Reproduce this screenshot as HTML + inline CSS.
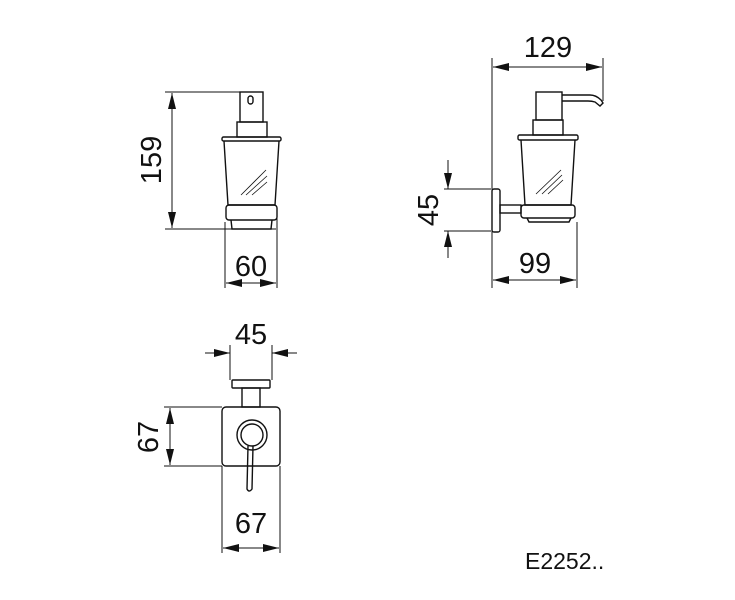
<!DOCTYPE html>
<html><head><meta charset="utf-8"><style>
html,body{margin:0;padding:0;background:#fff;}
svg{display:block;}
text{font-family:"Liberation Sans",sans-serif;fill:#111;}
</style></head><body>
<svg width="735" height="600" viewBox="0 0 735 600" xmlns="http://www.w3.org/2000/svg">
<defs>
<marker id="a" viewBox="0 0 16 8" refX="16" refY="4" markerWidth="16" markerHeight="8" markerUnits="userSpaceOnUse" orient="auto-start-reverse"><path d="M0,0 L16,4 L0,8 Z" fill="#111"/></marker>
</defs>
<g stroke="#111" stroke-width="1" fill="none">
<!-- View 1 -->
<line x1="165" y1="92" x2="262" y2="92"/>
<line x1="165" y1="229" x2="276" y2="229"/>
<line x1="172" y1="93" x2="172" y2="228" marker-start="url(#a)" marker-end="url(#a)"/>
<line x1="225" y1="222" x2="225" y2="288"/>
<line x1="277" y1="215" x2="277" y2="288"/>
<line x1="226" y1="283" x2="276" y2="283" marker-start="url(#a)" marker-end="url(#a)"/>
<g stroke-width="1.4">
<rect x="240" y="92" width="23" height="30"/>
<rect x="248" y="96" width="5" height="8" rx="2.5"/>
<rect x="237" y="122" width="30" height="15"/>
<rect x="222" y="137" width="59" height="4" rx="1.5"/>
<path d="M224,141 L228,205 L275,205 L279,141"/>
<rect x="226" y="205" width="51" height="15" rx="3"/>
<path d="M231,220 L232,229 L271,229 L272,220"/>
</g>
<g stroke-width="0.8">
<line x1="241" y1="195" x2="266" y2="170"/>
<line x1="246" y1="195" x2="267" y2="176"/>
<line x1="252" y1="195" x2="267" y2="182"/>
</g>
<!-- View 2 -->
<line x1="492" y1="58" x2="492" y2="288"/>
<line x1="603" y1="58" x2="603" y2="101"/>
<line x1="493" y1="67" x2="602" y2="67" marker-start="url(#a)" marker-end="url(#a)"/>
<line x1="444" y1="189" x2="491" y2="189"/>
<line x1="444" y1="231" x2="491" y2="231"/>
<line x1="448" y1="160" x2="448" y2="189" marker-end="url(#a)"/>
<line x1="448" y1="258" x2="448" y2="231" marker-end="url(#a)"/>
<line x1="577" y1="222" x2="577" y2="288"/>
<line x1="493" y1="280" x2="576" y2="280" marker-start="url(#a)" marker-end="url(#a)"/>
<g stroke-width="1.4">
<rect x="536" y="92" width="26" height="28"/>
<path d="M562,95 L590,95 Q596,95 601,100 L603,103 L600,106 L595,102 Q592,101 588,101 L562,101"/>
<rect x="533" y="120" width="30" height="15"/>
<rect x="518" y="135" width="60" height="5" rx="1.5"/>
<path d="M521,140 L525,205 L571,205 L575,140"/>
<rect x="521" y="205" width="54" height="13" rx="3"/>
<path d="M527,218 L529,222 L569,222 L571,218"/>
<rect x="492" y="189" width="8" height="43" rx="2"/>
<rect x="500" y="205" width="21" height="8"/>
</g>
<g stroke-width="0.8">
<line x1="536" y1="194" x2="561" y2="170"/>
<line x1="542" y1="194" x2="562" y2="175"/>
<line x1="548" y1="194" x2="563" y2="180"/>
</g>
<!-- View 3 -->
<line x1="230" y1="345" x2="230" y2="380"/>
<line x1="272" y1="345" x2="272" y2="380"/>
<line x1="205" y1="353" x2="230" y2="353" marker-end="url(#a)"/>
<line x1="297" y1="353" x2="272" y2="353" marker-end="url(#a)"/>
<line x1="164" y1="407" x2="222" y2="407"/>
<line x1="164" y1="466" x2="222" y2="466"/>
<line x1="170" y1="408" x2="170" y2="465" marker-start="url(#a)" marker-end="url(#a)"/>
<line x1="222" y1="466" x2="222" y2="553"/>
<line x1="280" y1="466" x2="280" y2="553"/>
<line x1="223" y1="548" x2="279" y2="548" marker-start="url(#a)" marker-end="url(#a)"/>
<g stroke-width="1.4">
<rect x="232" y="380" width="38" height="8" rx="1"/>
<rect x="242" y="388" width="18" height="19"/>
<rect x="222" y="407" width="58" height="59" rx="4"/>
<circle cx="252" cy="435" r="15"/>
<circle cx="252" cy="435" r="11"/>
<path d="M248,446 L247,489 Q249,493 252,489 L253,446"/>
</g>
</g>
<g font-size="29">
<text x="251" y="276" text-anchor="middle">60</text>
<text transform="translate(161,160) rotate(-90)" text-anchor="middle">159</text>
<text x="548" y="57" text-anchor="middle">129</text>
<text x="535" y="273" text-anchor="middle">99</text>
<text transform="translate(438,210) rotate(-90)" text-anchor="middle">45</text>
<text x="251" y="344" text-anchor="middle">45</text>
<text transform="translate(158,437) rotate(-90)" text-anchor="middle">67</text>
<text x="251" y="533" text-anchor="middle">67</text>
</g>
<text x="525" y="569" font-size="23">E2252..</text>
</svg>
</body></html>
